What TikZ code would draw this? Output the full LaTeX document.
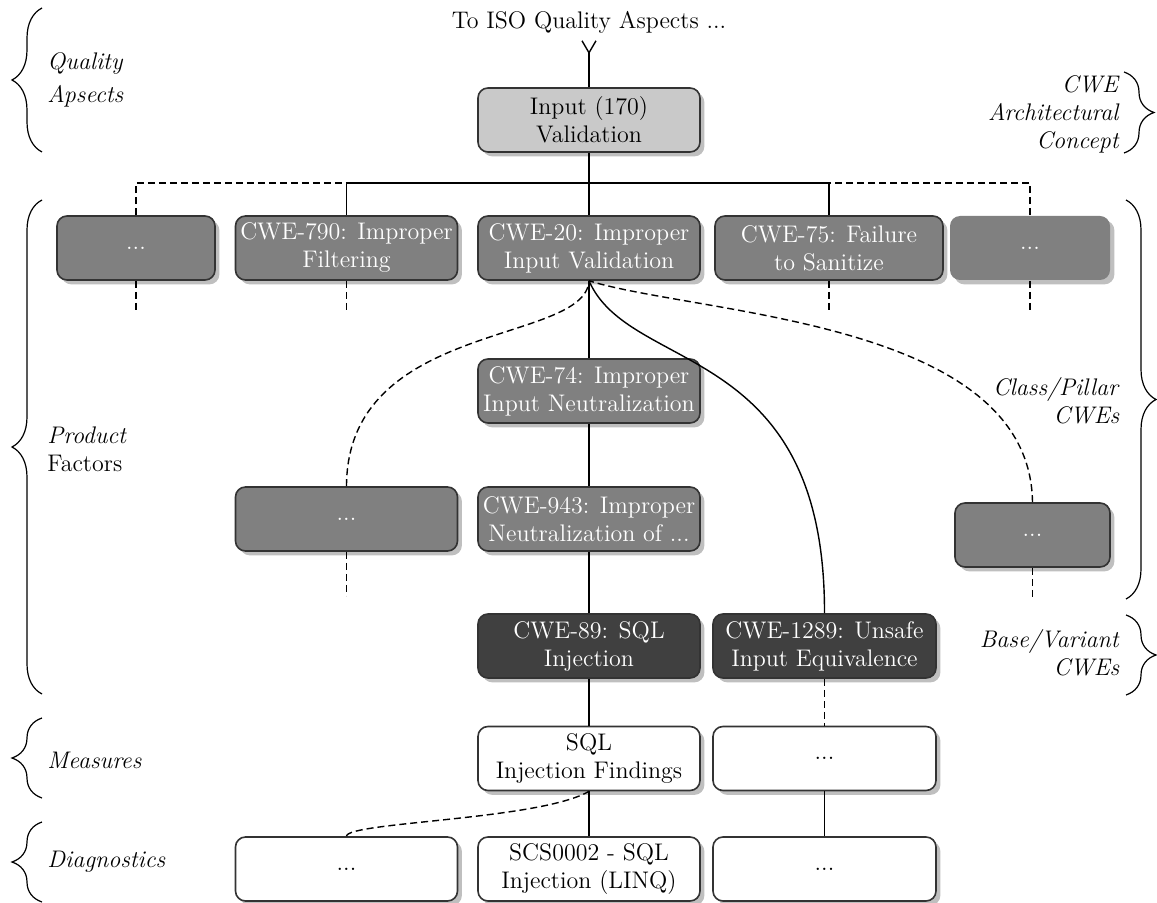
\documentclass[tikz,border=0pt]{standalone}
\usetikzlibrary{shadows,decorations.pathreplacing,arrows.meta}
\begin{document}
\begin{tikzpicture}[x=0.5pt,y=-0.5pt,
  font=\fontsize{12}{14}\selectfont,
  base/.style={rounded corners=5pt, minimum width=111pt, minimum height=32pt,
    inner xsep=1pt, inner ysep=2pt, align=center, line width=0.8pt, draw=black!80,
    drop shadow={shadow xshift=2.2pt, shadow yshift=-2.2pt, fill=black!25, opacity=1}},
  concept/.style={base, fill=black!21},
  pillar/.style={base, fill=black!50, text=white},
  variant/.style={base, fill=black!75, text=white},
  measure/.style={base, fill=white},
  link/.style={line width=0.7pt, black},
  optlink/.style={link, dash pattern=on 3.5pt off 2pt},
  layer/.style={decorate, decoration={brace, amplitude=15pt}, line width=0.6pt},
  layertext/.style={inner sep=0pt}
]
\useasboundingbox (0,0) rectangle (1157,903);

% layer braces and their names
\draw[layer] (42,152) -- (42,8);
\draw[layer] (42,694) -- (42,200);
\draw[layer] (42,798) -- (42,718);
\draw[layer] (42,902) -- (42,822);
\draw[layer] (1124,72) -- (1124,153);
\draw[layer] (1126,200) -- (1126,599);
\draw[layer] (1126,615) -- (1126,695);

\node[layertext, anchor=west, align=left] (qlab) at (47,80) {\textit{Quality}\\[2.5pt]\textit{Apsects}};
\node[layertext, anchor=west, align=left] (plab) at (47,449) {\textit{Product}\\Factors};
\node[layertext, anchor=west] (mlab) at (47,760) {\textit{Measures}};
\node[layertext, anchor=west] (dlab) at (47,862) {\textit{Diagnostics}};
\node[layertext, anchor=east, align=right] (alab) at (1120,114) {\textit{CWE}\\\textit{Architectural}\\\textit{Concept}};
\node[layertext, anchor=east, align=right] (clab) at (1120,401) {\textit{Class/Pillar}\\\textit{CWEs}};
\node[layertext, anchor=east, align=right] (blab) at (1120,653) {\textit{Base/Variant}\\\textit{CWEs}};

% architectural concept
\node[inner sep=3.33pt] (iso) at (589,22) {To ISO Quality Aspects ...};
\node[concept] (input) at (589,120) {Input (170)\\Validation};

% class / pillar CWEs
\node[pillar, minimum width=79pt] (p1) at (136,248) {...};
\node[pillar] (cwe790) at (346.5,248) {CWE-790: Improper\\Filtering};
\node[pillar] (cwe20) at (589,248) {CWE-20: Improper\\Input Validation};
\node[pillar, minimum width=114pt] (cwe75) at (829,248) {CWE-75: Failure\\to Sanitize};
\node[pillar, minimum width=80pt, draw=none] (p5) at (1030,248) {...};
\node[pillar] (cwe74) at (589,391) {CWE-74: Improper\\Input Neutralization};
\node[pillar] (p6) at (346.5,519) {...};
\node[pillar] (cwe943) at (589,519) {CWE-943: Improper\\Neutralization of ...};
\node[pillar, minimum width=77.5pt] (p7) at (1032.5,535) {...};

% base / variant CWEs
\node[variant] (cwe89) at (589,646) {CWE-89: SQL\\Injection};
\node[variant, minimum width=111.5pt] (cwe1289) at (824.5,646) {CWE-1289: Unsafe\\Input Equivalence};

% measures
\node[measure] (m1) at (589,758.5) {SQL\\Injection Findings};
\node[measure, minimum width=111.5pt] (m2) at (824.5,758.5) {...};

% diagnostics
\node[measure] (d1) at (346.5,869) {...};
\node[measure] (d2) at (589,869) {SCS0002 - SQL\\Injection (LINQ)};
\node[measure, minimum width=111.5pt] (d3) at (824.5,869) {...};

% connectors
\coordinate (bus) at (589,183);
\draw[link, -{Straight Barb[reversed, length=6pt, width=7pt]}] (input) -- (iso);
\draw[link] (input) -- (cwe20);
\draw[link] (cwe790.north) |- (bus);
\draw[link] (cwe75.north) |- (bus);
\draw[optlink] (p1.north) |- (cwe790.north |- bus);
\draw[optlink] (p5.north) |- (cwe75.north |- bus);

\draw[optlink] (p1.south) -- ++(0,32);
\draw[optlink] (cwe790.south) -- ++(0,32);
\draw[optlink] (cwe75.south) -- ++(0,32);
\draw[optlink] (p5.south) -- ++(0,32);
\draw[optlink] (p6.south) -- ++(0,44);
\draw[optlink] (p7.south) -- ++(0,30);

\draw[link] (cwe20) -- (cwe74);
\draw[link] (cwe74) -- (cwe943);
\draw[link] (cwe943) -- (cwe89);
\draw[link] (cwe89) -- (m1);
\draw[link] (m1) -- (d2);
\draw[optlink] (cwe1289) -- (m2);
\draw[link] (m2) -- (d3);

\draw[optlink] (p6.north) .. controls (347,320) and (585,345) .. (cwe20.south);
\draw[optlink] (p7.north) .. controls (1030,320) and (700,315) .. (cwe20.south);
\draw[link] (cwe1289.north) .. controls (825,340) and (630,375) .. (cwe20.south);
\draw[optlink] (d1.north) .. controls (347,822) and (540,820) .. (m1.south);
\end{tikzpicture}
\end{document}
